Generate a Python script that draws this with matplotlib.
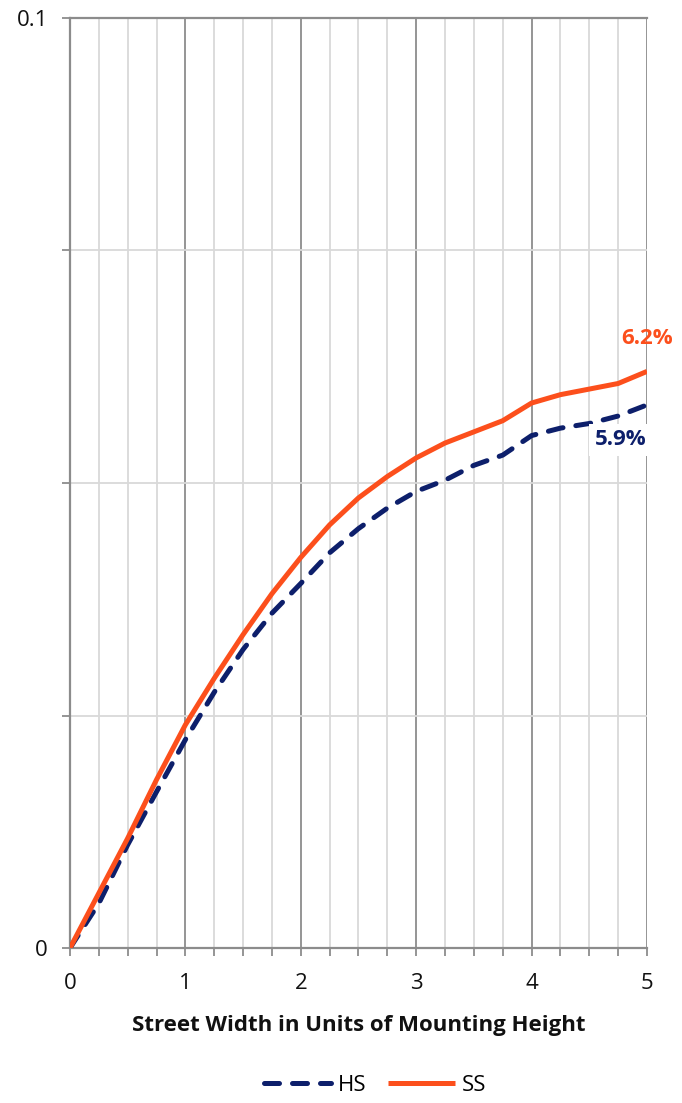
import matplotlib
matplotlib.use("Agg")
import matplotlib.pyplot as plt
import numpy as np
from matplotlib.ticker import MultipleLocator

plt.rcParams["font.family"] = ["Open Sans", "DejaVu Sans"]

HS_COLOR = "#0d1f6b"
SS_COLOR = "#fc4f1c"
MAJOR_GRID = "#8c8c8c"
MINOR_GRID = "#d9d9d9"

street_width = [0, 0.25, 0.5, 0.75, 1.0, 1.25, 1.5, 1.75, 2.0, 2.25, 2.5,
                2.75, 3.0, 3.25, 3.5, 3.75, 4.0, 4.25, 4.5, 4.75, 5.0]
hs_values = [0, 0.0048, 0.0111, 0.0168, 0.0224, 0.0275, 0.0321, 0.0360, 0.0392,
             0.0425, 0.0451, 0.0473, 0.0491, 0.0503, 0.0519, 0.0530, 0.0551,
             0.0559, 0.0564, 0.0572, 0.0584]
ss_values = [0, 0.0059, 0.0118, 0.0181, 0.0240, 0.0290, 0.0337, 0.0381, 0.0420,
             0.0455, 0.0484, 0.0507, 0.0527, 0.0543, 0.0555, 0.0567, 0.0586,
             0.0595, 0.0601, 0.0607, 0.0620]
hs_end_label = "5.9%"
ss_end_label = "6.2%"

fig = plt.figure(figsize=(6.82, 11.03), dpi=100)
ax = fig.add_axes([0.1026, 0.1405, 0.8461, 0.8432])

ax.set_xlim(0, 5)
ax.set_ylim(0, 0.1)

ax.xaxis.set_major_locator(MultipleLocator(1))
ax.xaxis.set_minor_locator(MultipleLocator(0.25))

ax.grid(True, which="minor", axis="x", color=MINOR_GRID, linewidth=1.3)
ax.grid(True, which="major", axis="x", color=MAJOR_GRID, linewidth=1.3)
ax.grid(True, which="major", axis="y", color=MINOR_GRID, linewidth=1.3)
ax.set_axisbelow(True)

ax.plot(street_width, hs_values, color=HS_COLOR, linewidth=3.6,
        linestyle=(0, (3.0, 2.6)), dash_capstyle="round", label="HS", zorder=3)
ax.plot(street_width, ss_values, color=SS_COLOR, linewidth=3.6,
        solid_capstyle="butt", label="SS", zorder=4)

ax.axhline(0.1, color=MAJOR_GRID, linewidth=1.6, zorder=2, clip_on=False)

for side in ("top", "right"):
    ax.spines[side].set_visible(False)
for side in ("left", "bottom"):
    ax.spines[side].set_color(MAJOR_GRID)
    ax.spines[side].set_linewidth(1.6)

ylabels = {0: "0", 0.1: "0.1"}
yt = np.arange(0, 0.1001, 0.025)
ax.set_yticks(yt)
ax.set_yticklabels([ylabels.get(round(t, 3), "") for t in yt])

ax.tick_params(axis="both", which="both", direction="out", color=MAJOR_GRID,
               width=1.3, labelsize=16, labelcolor="#111111")
ax.tick_params(axis="x", which="major", length=6, pad=12)
ax.tick_params(axis="x", which="minor", length=6)
ax.tick_params(axis="y", which="major", length=6, pad=10)

ax.set_xlabel("Street Width in Units of Mounting Height", fontsize=16,
              fontweight="bold", labelpad=15, color="#111111")

ax.annotate(ss_end_label, (street_width[-1], ss_values[-1]), xytext=(0, 24),
            textcoords="offset points", ha="center", va="center",
            fontsize=16, fontweight="bold", color=SS_COLOR, zorder=6)
ax.annotate(hs_end_label, (street_width[-1], hs_values[-1]), xytext=(-19, -25),
            textcoords="offset points", ha="center", va="center",
            fontsize=16, fontweight="bold", color=HS_COLOR, zorder=6,
            bbox=dict(boxstyle="square,pad=0.25", fc="white", ec="none"))

fig.legend(loc="lower center", bbox_to_anchor=(0.55, -0.012), ncol=2, frameon=False,
           fontsize=16, handlelength=3.0, columnspacing=1.0, handletextpad=0.3)

fig.savefig("out.png", dpi=100)
